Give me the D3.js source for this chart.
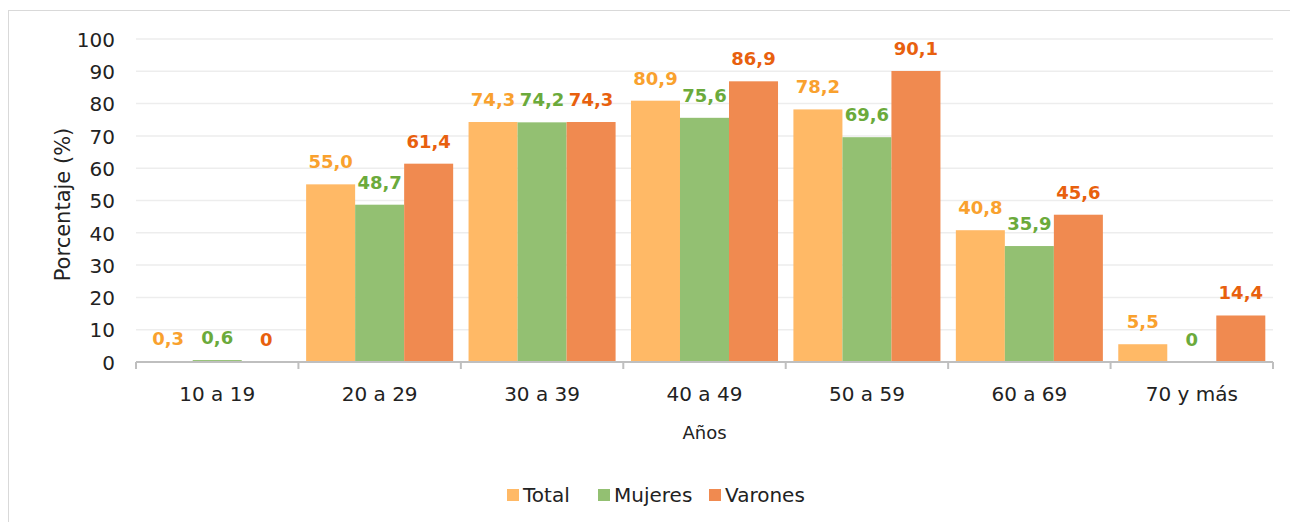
<!DOCTYPE html>
<html><head><meta charset="utf-8">
<script src="https://cdn.jsdelivr.net/npm/d3@7"></script>
<style>body{margin:0;background:#fff}svg{display:block}</style>
</head><body>
<svg id="c" width="1290" height="522"></svg>
<script>
const categories = ["10 a 19","20 a 29","30 a 39","40 a 49","50 a 59","60 a 69","70 y más"];
const seriesNames = ["Total","Mujeres","Varones"];
const total   = [0.3,55.0,74.3,80.9,78.2,40.8,5.5];
const mujeres = [0.6,48.7,74.2,75.6,69.6,35.9,0];
const varones = [0,61.4,74.3,86.9,90.1,45.6,14.4];
const labelsTotal   = ["0,3","55,0","74,3","80,9","78,2","40,8","5,5"];
const labelsMujeres = ["0,6","48,7","74,2","75,6","69,6","35,9","0"];
const labelsVarones = ["0","61,4","74,3","86,9","90,1","45,6","14,4"];
const yTicks = [0,10,20,30,40,50,60,70,80,90,100];

const values = [total, mujeres, varones];
const labels = [labelsTotal, labelsMujeres, labelsVarones];
const fills = ["#FFB966","#93C072","#F08A50"];
const labelColors = ["#F9A12E","#6BAA3B","#E8600E"];
const font = "'DejaVu Sans',sans-serif";

const svg = d3.select("#c");
svg.append("rect").attr("x",8.5).attr("y",10.5).attr("width",1300).attr("height",600)
  .attr("fill","#fff").attr("stroke","#d9d9d9").attr("stroke-width",1);

const L = 136, R = 1273, T = 39, B = 362;
const x = d3.scaleBand().domain(categories).range([L,R]).paddingInner(0).paddingOuter(0);
const xs = d3.scaleBand().domain(seriesNames).range([0,x.bandwidth()]).paddingInner(0).paddingOuter(0.157);
const y = d3.scaleLinear().domain([0,100]).range([B,T]);

// grid
svg.append("g").selectAll("line").data(yTicks.filter(d=>d>0)).join("line")
  .attr("x1",L).attr("x2",R).attr("y1",d=>y(d)).attr("y2",d=>y(d))
  .attr("stroke","#ededed").attr("stroke-width",1.5);

// y axis
const ya = svg.append("g").attr("transform",`translate(${L},0)`)
  .call(d3.axisLeft(y).tickValues(yTicks).tickSize(0).tickPadding(21));
ya.select(".domain").remove();
ya.selectAll("text").attr("font-family",font).attr("font-size",20).attr("fill","#222").attr("dy","0.36em");

// bars
seriesNames.forEach((s,i)=>{
  const g = svg.append("g");
  g.selectAll("rect").data(categories).join("rect")
    .attr("x",c=>x(c)+xs(s)).attr("width",xs.bandwidth())
    .attr("y",(c,j)=>y(values[i][j])).attr("height",(c,j)=>B-y(values[i][j]))
    .attr("fill",fills[i]);
  g.selectAll("text").data(categories).join("text")
    .attr("x",c=>x(c)+xs(s)+xs.bandwidth()/2)
    .attr("y",(c,j)=>y(values[i][j])-16)
    .attr("text-anchor","middle").attr("font-family",font).attr("font-weight","bold")
    .attr("font-size",18).attr("fill",labelColors[i])
    .text((c,j)=>labels[i][j]);
});

// x axis
const xa = svg.append("g").attr("transform",`translate(0,${B})`)
  .call(d3.axisBottom(x).tickSize(0));
xa.select(".domain").attr("stroke","#bfbfbf").attr("stroke-width",2).attr("d",`M${L},0H${R}`);
xa.selectAll("text").attr("font-family",font).attr("font-size",20).attr("fill","#222")
  .attr("y",39).attr("dy",null);
svg.append("g").selectAll("line").data(d3.range(categories.length+1)).join("line")
  .attr("x1",i=>L+i*x.step()).attr("x2",i=>L+i*x.step()).attr("y1",B).attr("y2",B+7)
  .attr("stroke","#bfbfbf").attr("stroke-width",2);

// titles
svg.append("text").attr("transform",`translate(70,${(T+B)/2 + 4}) rotate(-90)`)
  .attr("text-anchor","middle").attr("font-family",font).attr("font-size",21).attr("fill","#222")
  .text("Porcentaje (%)");
svg.append("text").attr("x",(L+R)/2).attr("y",439).attr("text-anchor","middle")
  .attr("font-family",font).attr("font-size",18).attr("fill","#222").text("Años");

// legend
const legX = [507,598,709];
seriesNames.forEach((s,i)=>{
  svg.append("rect").attr("x",legX[i]).attr("y",489).attr("width",12).attr("height",12).attr("fill",fills[i]);
  svg.append("text").attr("x",legX[i]+16).attr("y",502).attr("font-family",font).attr("font-size",20)
    .attr("fill","#222").text(s);
});
</script>
</body></html>
